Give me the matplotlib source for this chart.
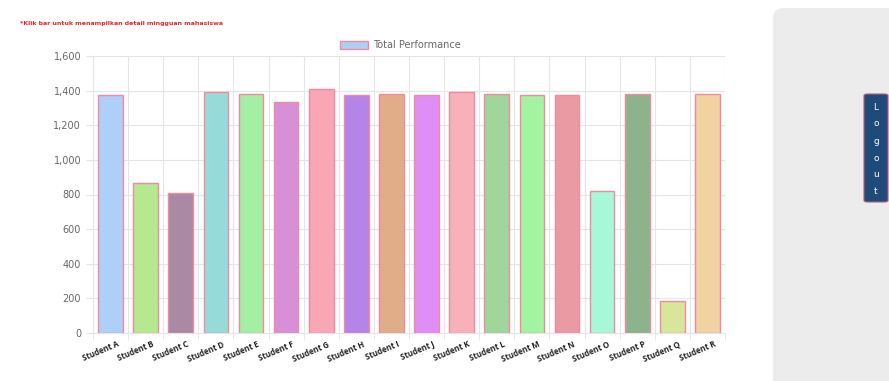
import matplotlib.pyplot as plt
from matplotlib.patches import FancyBboxPatch, Rectangle
from matplotlib.ticker import FuncFormatter, MultipleLocator
import numpy as np

students = ["Student A", "Student B", "Student C", "Student D", "Student E", "Student F",
            "Student G", "Student H", "Student I", "Student J", "Student K", "Student L",
            "Student M", "Student N", "Student O", "Student P", "Student Q", "Student R"]
performance = [1376, 867, 809, 1390, 1381, 1335, 1410, 1376, 1378, 1376, 1390, 1381,
               1376, 1376, 821, 1381, 185, 1381]
bar_colors = ["#aecff7", "#b5e88f", "#a98aa5", "#97dbd8", "#a3f0a5", "#d98fd8",
              "#f9a7b5", "#b584e8", "#e0ad88", "#df8ef5", "#f9b1b9", "#9ed69c",
              "#a3f4a0", "#ea9aa2", "#a7f8d8", "#8cb38a", "#d9e59a", "#f0d3a0"]

fig = plt.figure(figsize=(8.89, 3.81), dpi=100)
fig.patch.set_facecolor("white")

# grey side panel with rounded top-left corner
panel = FancyBboxPatch((773 / 889, -20 / 381), 140 / 889, (381 - 8 + 20) / 381,
                       boxstyle="round,pad=0,rounding_size=0.012",
                       transform=fig.transFigure, facecolor="#ececec", edgecolor="none",
                       mutation_aspect=889 / 381, zorder=-5)
fig.patches.append(panel)

ax = fig.add_axes([93 / 889, 1 - 333 / 381, (725 - 93) / 889, (333 - 56) / 381])
ax.set_facecolor("white")
x = np.arange(len(students))
ax.bar(x, performance, width=0.7, color=bar_colors, edgecolor="#f08aa0", linewidth=1, zorder=3)

ax.set_xlim(-0.5, len(students) - 0.5)
ax.set_ylim(0, 1600)
ax.yaxis.set_major_locator(MultipleLocator(200))
ax.yaxis.set_major_formatter(FuncFormatter(lambda v, p: f"{int(v):,}"))
# label anchors sit a little right of the bar centre, like the chart.js rotation
ax.set_xticks(x + 0.17)
ax.set_xticklabels(students, rotation=23, ha="right", rotation_mode="anchor",
                   fontsize=5.7, fontweight="bold", color="#222222", family="Open Sans")
ax.tick_params(axis="x", length=0, pad=5)
ax.set_xticks(np.arange(-0.5, len(students), 1), minor=True)
ax.tick_params(axis="x", which="minor", length=5, color="#e5e5e5")
ax.tick_params(axis="y", length=5, color="#e5e5e5", labelsize=7, labelcolor="#666666")
ax.grid(axis="y", color="#e5e5e5", linewidth=0.8, zorder=0)
ax.grid(axis="x", which="minor", color="#e5e5e5", linewidth=0.8, zorder=0)
for s in ax.spines.values():
    s.set_visible(False)
ax.spines["left"].set_visible(True)
ax.spines["left"].set_color("#e5e5e5")
ax.spines["bottom"].set_visible(True)
ax.spines["bottom"].set_color("#e5e5e5")

# legend
fig.patches.append(Rectangle((340 / 889, 1 - 49 / 381), 28 / 889, 8 / 381,
                             transform=fig.transFigure, facecolor="#aecff7",
                             edgecolor="#f08aa0", linewidth=1))
fig.text(373 / 889, 1 - 45 / 381, "Total Performance", fontsize=7, color="#666666", va="center")

fig.text(20 / 889, 1 - 24 / 381, "*Klik bar untuk menampilkan detail mingguan mahasiswa",
         fontsize=4.5, color="#e8262a", fontweight="bold", va="center")

# logout button
btn = FancyBboxPatch((864 / 889, 1 - 202 / 381), 24 / 889, 108 / 381,
                     boxstyle="round,pad=0,rounding_size=0.004",
                     transform=fig.transFigure, facecolor="#1f4b7a",
                     edgecolor="#c05a78", linewidth=0.8)
fig.patches.append(btn)
for i, ch in enumerate("Logout"):
    fig.text(876 / 889, 1 - (107 + i * 17) / 381, ch, fontsize=6.5, color="white",
             ha="center", va="center")

fig.savefig("out.png", dpi=100)
